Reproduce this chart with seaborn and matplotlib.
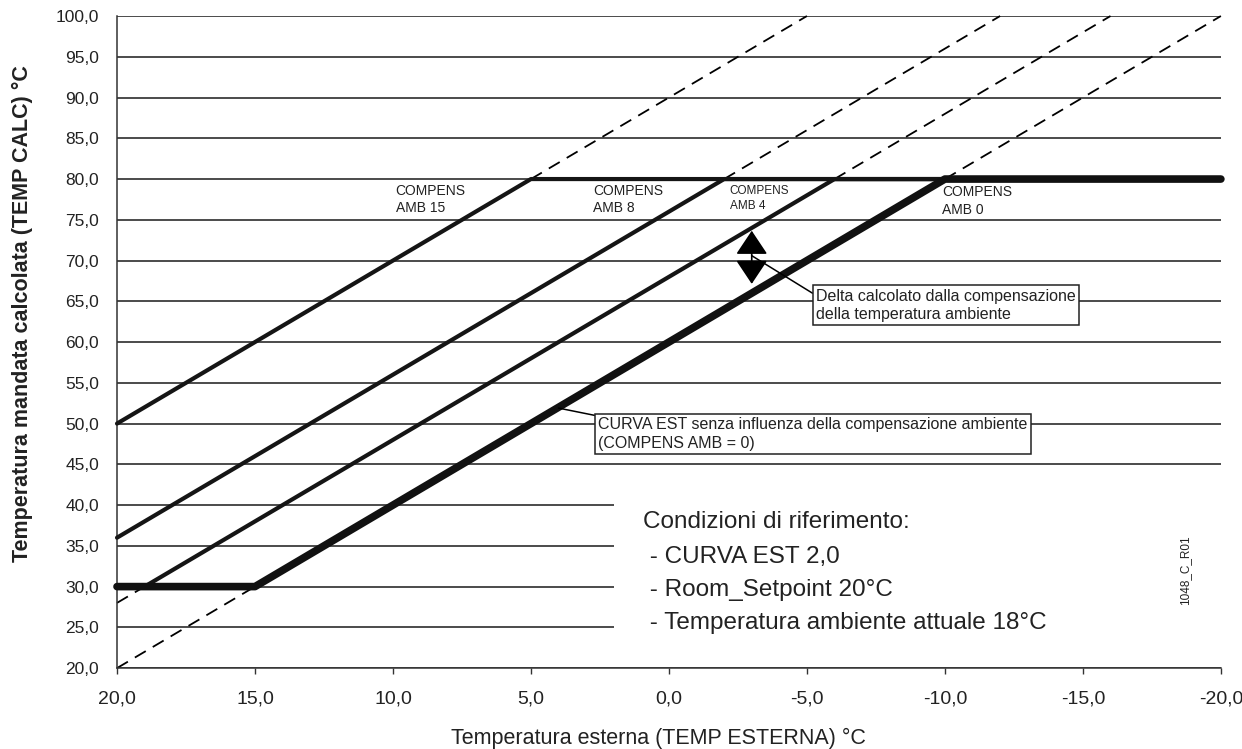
import numpy as np
import pandas as pd
import matplotlib
matplotlib.use("Agg")
import matplotlib.pyplot as plt
import seaborn as sns
from matplotlib.ticker import FuncFormatter, MultipleLocator
from matplotlib.patches import Rectangle, FancyArrowPatch

# ---- data: vertici delle curve (TEMP ESTERNA, TEMP CALC) ----
amb15_x = [20, 5, -20]
amb15_y = [50, 80, 80]
amb8_x = [20, -2, -20]
amb8_y = [36, 80, 80]
amb4_x = [19, -6, -20]
amb4_y = [30, 80, 80]
amb0_x = [20, 15, -10, -20]
amb0_y = [30, 30, 80, 80]

# tratti tratteggiati (curve senza limiti min/max)
dash_segments = [
    ([5, -5], [80, 100]),
    ([-2, -12], [80, 100]),
    ([-6, -16], [80, 100]),
    ([-10, -20], [80, 100]),
    ([20, 19], [28, 30]),
    ([20, 15], [20, 30]),
]

curve_labels = ["COMPENS\nAMB 15", "COMPENS\nAMB 8", "COMPENS\nAMB 4", "COMPENS\nAMB 0"]

conditions = ["Condizioni di riferimento:",
              " - CURVA EST 2,0",
              " - Room_Setpoint 20°C",
              " - Temperatura ambiente attuale 18°C"]

# ---- stile ----
sns.set_theme(style="white")
plt.rcParams['font.family'] = ['Liberation Sans', 'DejaVu Sans']

fig = plt.figure(figsize=(12.42, 7.49), dpi=100)
ax = fig.add_axes([0.0942, 0.108, 0.983 - 0.0942, 0.9786 - 0.108])

ax.set_xlim(20, -20)
ax.set_ylim(20, 100)

fmt = FuncFormatter(lambda v, p: f"{v:.1f}".replace(".", ","))
ax.xaxis.set_major_locator(MultipleLocator(5))
ax.yaxis.set_major_locator(MultipleLocator(5))
ax.xaxis.set_major_formatter(fmt)
ax.yaxis.set_major_formatter(fmt)

# griglia orizzontale
ax.set_axisbelow(True)
ax.yaxis.grid(True, color="#1a1a1a", lw=1.1)
ax.xaxis.grid(False)

for side in ["top", "right"]:
    ax.spines[side].set_visible(False)
for side in ["left", "bottom"]:
    ax.spines[side].set_color("#333333")
    ax.spines[side].set_linewidth(1.1)

ax.tick_params(axis="x", which="major", bottom=True, length=4, width=1, color="#333333",
               pad=12, labelsize=14, labelcolor="#222222")
ax.tick_params(axis="y", which="major", left=False, length=0, pad=13,
               labelsize=12.5, labelcolor="#222222")

# area bianca dietro alle condizioni di riferimento
ax.add_patch(Rectangle((2.0, 20.6), -22.5, 22.0, facecolor="white", edgecolor="none",
                       zorder=1.5, clip_on=True))

# ---- curve ----
for xs, ys in dash_segments:
    sns.lineplot(x=xs, y=ys, ax=ax, sort=False, estimator=None, color="black",
                 lw=1.3, linestyle=(0, (7, 4.5)), zorder=2)

for xs, ys in [(amb15_x, amb15_y), (amb8_x, amb8_y), (amb4_x, amb4_y)]:
    sns.lineplot(x=xs, y=ys, ax=ax, sort=False, estimator=None, color="#151515",
                 lw=3.0, zorder=3)

sns.lineplot(x=amb0_x, y=amb0_y, ax=ax, sort=False, estimator=None, color="#111111",
             lw=5.5, zorder=4)
for ln in ax.lines:
    ln.set_solid_capstyle("round")
    ln.set_clip_on(False)

# ---- etichette curve ----
label_pos = [(9.9, 77.5, 10), (2.75, 77.5, 10), (-2.2, 77.6, 8.5), (-9.9, 77.3, 10)]
for txt, (lx, ly, fs) in zip(curve_labels, label_pos):
    ax.text(lx, ly, txt, ha="left", va="center", fontsize=fs, color="#222222",
            linespacing=1.3, zorder=5)

# ---- freccia delta ----
arrow = FancyArrowPatch((-3.0, 74.0), (-3.0, 66.8),
                        arrowstyle="<|-|>,head_length=0.75,head_width=0.5",
                        mutation_scale=20, color="black", lw=1.2, zorder=6)
ax.add_patch(arrow)
ax.plot([-3.0, -5.2], [70.6, 66.0], color="black", lw=1.1, zorder=5)

box_style = dict(boxstyle="square,pad=0.2", fc="white", ec="#222222", lw=1.1)
ax.text(-5.33, 64.5, "Delta calcolato dalla compensazione\ndella temperatura ambiente",
        ha="left", va="center", fontsize=11.5, color="#222222", linespacing=1.3,
        bbox=box_style, zorder=6)

# ---- box curva EST ----
ax.plot([4.0, 2.68], [51.9, 51.0], color="black", lw=1.1, zorder=5)
ax.text(2.57, 48.7, "CURVA EST senza influenza della compensazione ambiente\n(COMPENS AMB = 0)",
        ha="left", va="center", fontsize=11.5, color="#222222", linespacing=1.3,
        bbox=box_style, zorder=6)

# ---- condizioni di riferimento ----
cond_y = [37.9, 33.6, 29.6, 25.5]
for txt, cy in zip(conditions, cond_y):
    ax.text(0.94, cy, txt, ha="left", va="center", fontsize=17.5, color="#222222", zorder=5)

ax.text(-18.7, 32.0, "1048_C_R01", rotation=90, ha="center", va="center",
        fontsize=8.5, color="#222222", zorder=5)

# ---- assi ----
ax.set_xlabel("Temperatura esterna (TEMP ESTERNA) °C", fontsize=15.5, color="#222222")
ax.xaxis.set_label_coords((658 - 117) / (1221 - 117), -(738 - 668) / (668 - 16), transform=ax.transAxes)
ax.xaxis.label.set_va("center")
ax.set_ylabel("Temperatura mandata calcolata (TEMP CALC) °C", fontsize=15.5,
              fontweight="bold", color="#222222")
ax.yaxis.set_label_coords(-(117 - 22) / (1221 - 117), (668 - 313) / (668 - 16), transform=ax.transAxes)
ax.yaxis.label.set_va("center")

fig.savefig("out.png", dpi=100)
